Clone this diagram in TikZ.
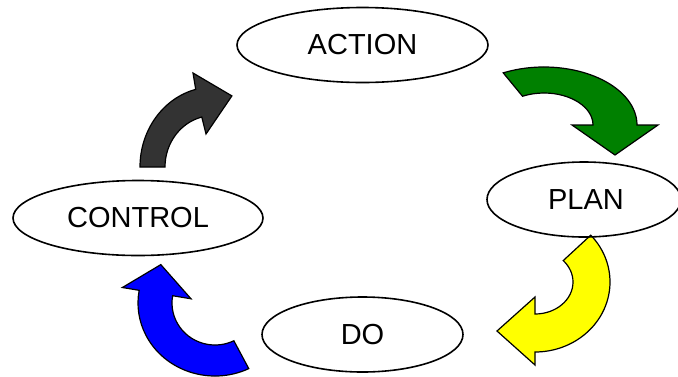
\documentclass[tikz,border=0pt]{standalone}
\usepackage{fontspec}
\setmainfont{Liberation Sans}
\usetikzlibrary{shapes.geometric,calc}
\definecolor{cycgreen}{RGB}{0,128,0}
\definecolor{cycyellow}{RGB}{255,255,0}
\definecolor{cycblue}{RGB}{0,0,255}
\definecolor{cycgray}{RGB}{51,51,51}
\begin{document}
\begin{tikzpicture}[x=1pt,y=-1pt,
  stage/.style={draw=black, line width=1.6pt, ellipse, inner sep=0pt,
    minimum height=75pt, font=\fontsize{29}{34}\selectfont},
  bentarrow/.style={draw=black, line width=1.2pt, line join=miter}]
\useasboundingbox (0,0) rectangle (678,376);
\clip (0,0) rectangle (678,376);

% centres of the curved arrows
\coordinate (gc) at (544,125);
\coordinate (yc) at (535,282);
\coordinate (bc) at (215,303);
\coordinate (kc) at (213.5,167);

% ACTION -> PLAN
\draw[bentarrow, fill=cycgreen]
  ($(gc)+(-116:93 and 58)$) arc[start angle=-116, end angle=0, x radius=93, y radius=58]
  -- (658,125) -- (615,155) -- (572,125)
  -- ($(gc)+(0:49 and 32)$) arc[start angle=0, end angle=-116, x radius=49, y radius=32]
  -- cycle;

% PLAN -> DO
\draw[bentarrow, fill=cycyellow]
  ($(yc)+(-42:75 and 70)$) arc[start angle=-42, end angle=90, x radius=75, y radius=70]
  -- (535,365) -- (497,331) -- (535,297)
  -- ($(yc)+(90:38 and 32)$) arc[start angle=90, end angle=-42, x radius=38, y radius=32]
  -- cycle;

% DO -> CONTROL
\draw[bentarrow, fill=cycblue]
  ($(bc)+(64:77 and 73)$) arc[start angle=64, end angle=190, x radius=77, y radius=73]
  -- (122.4,287.5) -- (160.8,264.6) -- (191,298.8)
  -- ($(bc)+(190:43 and 42)$) arc[start angle=190, end angle=64, x radius=43, y radius=42]
  -- cycle;

% CONTROL -> ACTION
\draw[bentarrow, fill=cycgray]
  ($(kc)+(180:73.5 and 80)$) arc[start angle=180, end angle=256, x radius=73.5, y radius=80]
  -- (193,73) -- (231.9,95.9) -- (206,134)
  -- ($(kc)+(256:48.5 and 51.5)$) arc[start angle=256, end angle=180, x radius=48.5, y radius=51.5]
  -- cycle;

% the four stages
\node[stage, minimum width=251pt] (action) at (362.5,45) {ACTION};
\node[stage, minimum width=194pt] (plan) at (584,199.5) {\hspace*{4pt}PLAN};
\node[stage, minimum width=201pt] (do) at (362.5,334.5) {DO};
\node[stage, minimum width=250pt] (control) at (138,218) {CONTROL};
\end{tikzpicture}
\end{document}
